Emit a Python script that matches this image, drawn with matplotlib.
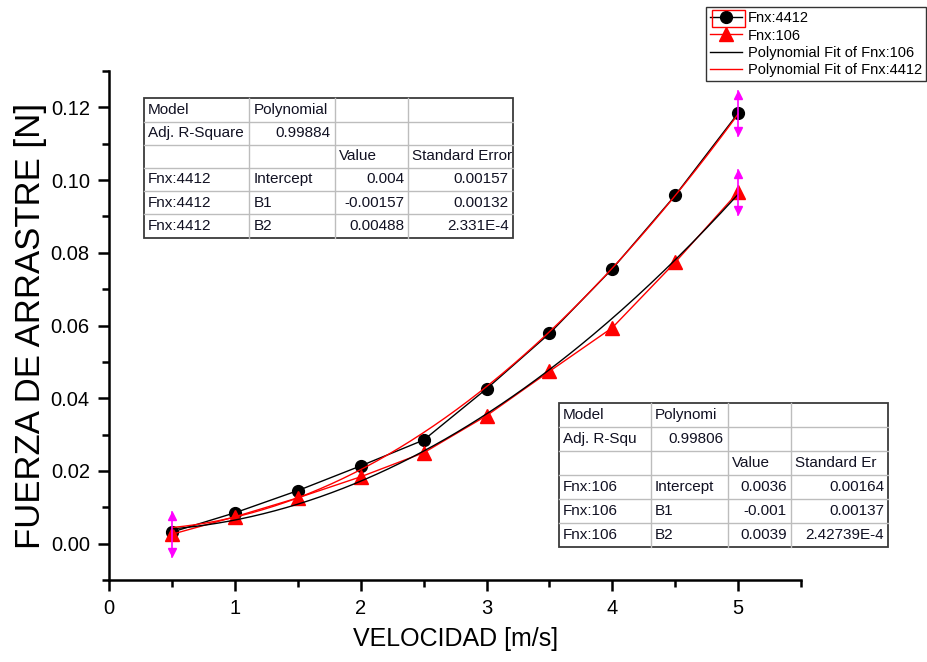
import matplotlib
matplotlib.use("Agg")
import matplotlib.pyplot as plt
import numpy as np
from matplotlib.patches import Rectangle
from matplotlib.lines import Line2D
from matplotlib.ticker import MultipleLocator, FormatStrFormatter

plt.rcParams['font.family'] = ['Liberation Sans', 'DejaVu Sans']

# Measured drag force vs. velocity
velocidad = [0.5, 1.0, 1.5, 2.0, 2.5, 3.0, 3.5, 4.0, 4.5, 5.0]
fnx_4412 = [0.0032, 0.0085, 0.0146, 0.0214, 0.0285, 0.0426, 0.0578, 0.0756, 0.0958, 0.1184]
fnx_106 = [0.0026, 0.0074, 0.0126, 0.0184, 0.0250, 0.0352, 0.0474, 0.0594, 0.0774, 0.0967]

# Quadratic fit coefficients (Intercept, B1, B2)
coef_4412 = [0.004, -0.00157, 0.00488]
coef_106 = [0.0036, -0.001, 0.0039]

table_4412 = [
    ["Model", "Polynomial", "", ""],
    ["Adj. R-Square", "0.99884", "", ""],
    ["", "", "Value", "Standard Error"],
    ["Fnx:4412", "Intercept", "0.004", "0.00157"],
    ["Fnx:4412", "B1", "-0.00157", "0.00132"],
    ["Fnx:4412", "B2", "0.00488", "2.331E-4"],
]
table_106 = [
    ["Model", "Polynomi", "", ""],
    ["Adj. R-Squ", "0.99806", "", ""],
    ["", "", "Value", "Standard Er"],
    ["Fnx:106", "Intercept", "0.0036", "0.00164"],
    ["Fnx:106", "B1", "-0.001", "0.00137"],
    ["Fnx:106", "B2", "0.0039", "2.42739E-4"],
]

W, H = 927, 662
fig = plt.figure(figsize=(W / 100, H / 100), dpi=100)
ax = fig.add_axes([109.3 / W, 1 - 580 / H, (801 - 109.3) / W, (580 - 71) / H])

xs = np.linspace(velocidad[0], velocidad[-1], 200)
fit_4412 = coef_4412[0] + coef_4412[1] * xs + coef_4412[2] * xs ** 2
fit_106 = coef_106[0] + coef_106[1] * xs + coef_106[2] * xs ** 2

l1, = ax.plot(velocidad, fnx_4412, color='black', lw=1.0, marker='o', ms=8.5,
              mfc='black', mec='black', zorder=3, label='Fnx:4412')
l2, = ax.plot(velocidad, fnx_106, color='red', lw=1.0, marker='^', ms=10,
              mfc='red', mec='red', zorder=3, label='Fnx:106')
l3, = ax.plot(xs, fit_106, color='black', lw=1.0, zorder=4,
              label='Polynomial Fit of Fnx:106')
l4, = ax.plot(xs, fit_4412, color='red', lw=1.0, zorder=4,
              label='Polynomial Fit of Fnx:4412')

# Range markers at the ends of the fitted interval
for xm, ym in [(velocidad[0], fnx_106[0]), (velocidad[-1], fnx_4412[-1]),
               (velocidad[-1], fnx_106[-1])]:
    d = 0.0062
    ax.plot([xm, xm], [ym - d, ym + d], color='magenta', lw=1.2, zorder=5)
    ax.plot([xm], [ym + d - 0.0012], marker='^', color='magenta', ms=6, zorder=5)
    ax.plot([xm], [ym - d + 0.0012], marker='v', color='magenta', ms=6, zorder=5)

ax.set_xlim(0, 5.5)
ax.set_ylim(-0.01, 0.13)
ax.xaxis.set_minor_locator(MultipleLocator(0.5))
ax.yaxis.set_minor_locator(MultipleLocator(0.01))
ax.yaxis.set_major_formatter(FormatStrFormatter('%.2f'))
ax.set_yticks(np.arange(0, 0.121, 0.02))
ax.set_xticks(np.arange(0, 5.01, 1))

for s in ['top', 'right']:
    ax.spines[s].set_visible(False)
for s in ['left', 'bottom']:
    ax.spines[s].set_linewidth(1.8)
ax.tick_params(which='major', direction='out', length=8, width=1.8,
               labelsize=14.5, pad=6, colors='black')
ax.tick_params(which='minor', direction='out', length=5, width=1.8)

ax.set_xlabel('VELOCIDAD [m/s]', fontsize=18, labelpad=6)
ax.set_ylabel('FUERZA DE ARRASTRE [N]', fontsize=25, labelpad=3)


def draw_table(rows, x0, y0, col_w, row_h, fs=11):
    """Draw a grid table; x0, y0 is the top-left corner in figure pixels."""
    aligns = ['left', 'left', 'right', 'right']
    tot_w = sum(col_w)
    tot_h = row_h * len(rows)
    tr = fig.transFigure

    def fx(px):
        return px / W

    def fy(py):
        return 1 - py / H

    xb = [x0]
    for w in col_w:
        xb.append(xb[-1] + w)
    for xv in xb[1:-1]:
        fig.add_artist(Line2D([fx(xv), fx(xv)], [fy(y0), fy(y0 + tot_h)],
                              transform=tr, color='#bdbdbd', lw=1.0, zorder=6))
    for r in range(1, len(rows)):
        yv = y0 + r * row_h
        fig.add_artist(Line2D([fx(x0), fx(x0 + tot_w)], [fy(yv), fy(yv)],
                              transform=tr, color='#bdbdbd', lw=1.0, zorder=6))
    fig.add_artist(Rectangle((fx(x0), fy(y0 + tot_h)), tot_w / W, tot_h / H,
                             transform=tr, fill=True, facecolor='white',
                             edgecolor='#3a3a3a', lw=1.3, zorder=5.5))
    for r, row in enumerate(rows):
        yc = y0 + (r + 0.5) * row_h
        for c, txt in enumerate(row):
            if not txt:
                continue
            ha = aligns[c]
            if r == 2 or (c == 1 and not txt[0].isdigit()):
                ha = 'left'
            if c == 1 and txt[0].isdigit():
                ha = 'right'
            xt = xb[c] + 4 if ha == 'left' else xb[c + 1] - 4
            fig.text(fx(xt), fy(yc), txt, ha=ha, va='center', fontsize=fs,
                     color='#111122', zorder=7)


draw_table(table_4412, 144, 98.3, [105.3, 85.7, 73.3, 104.4], 23.2)
draw_table(table_106, 559, 402.7, [92, 76.7, 63.3, 97], 24.0)

leg = fig.legend(handles=[l1, l2, l3, l4], loc='upper right',
                 bbox_to_anchor=(926 / W, 1 - 7 / H), fontsize=10.5,
                 frameon=True, fancybox=False, edgecolor='black',
                 handlelength=2.2, handletextpad=0.35, labelspacing=0.22,
                 borderpad=0.3, borderaxespad=0.0)
leg.get_frame().set_linewidth(1.0)

# Highlight box around the first legend sample
fig.add_artist(Rectangle((712 / W, 1 - 27 / H), 33 / W, 17 / H,
                         transform=fig.transFigure, fill=False,
                         edgecolor='red', lw=1.0, zorder=10))

fig.savefig('out.png', dpi=100)
